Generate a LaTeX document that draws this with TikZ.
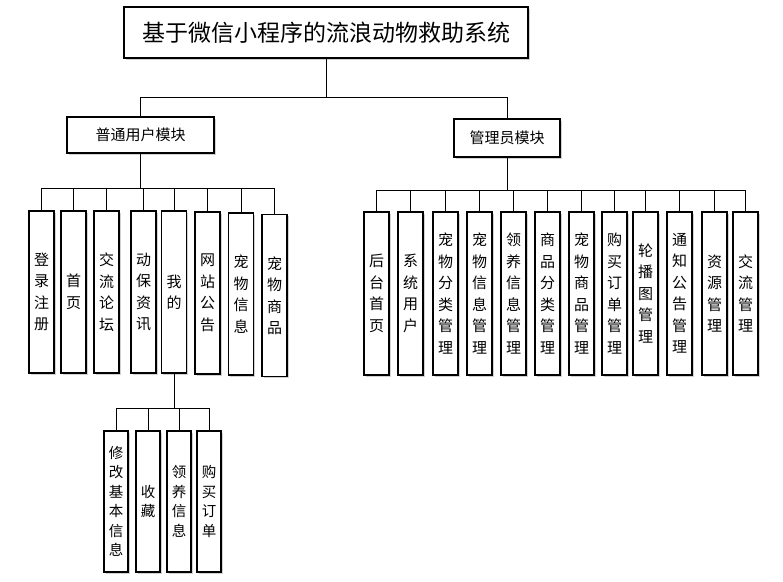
\documentclass[tikz,border=0pt]{standalone}
\usepackage{fontspec}
\newfontfamily\cjk{Noto Sans CJK SC}
\usetikzlibrary{positioning,shadows}

\begin{document}
\begin{tikzpicture}[x=1pt, y=-1pt,
		box/.style={rectangle, draw=black, line width=1.1pt, fill=white, inner sep=2pt,
			drop shadow={shadow xshift=1.5pt, shadow yshift=-1.5pt, fill=black!30, opacity=0.6}},
		modbox/.style={box, font=\cjk\fontsize{15}{15}\selectfont},
		leaf/.style={box, minimum width=25pt, minimum height=162pt, align=center,
			font=\cjk\fontsize{15}{21.5}\selectfont},
		subleaf/.style={leaf, minimum width=24pt, minimum height=141pt,
			font=\cjk\fontsize{14.5}{19.5}\selectfont},
		conn/.style={draw=black, line width=1pt}]
	\useasboundingbox (0,0) rectangle (783,581);

	% top
	\node[box, minimum width=404pt, minimum height=51pt, font=\cjk\fontsize{23}{23}\selectfont] (title) at (326,32.5) {基于微信小程序的流浪动物救助系统};
	\node[modbox, minimum width=147pt, minimum height=36pt] (user) at (140.5,135) {普通用户模块};
	\node[modbox, minimum width=106pt, minimum height=38pt] (admin) at (507,138) {管理员模块};

	% user module
	\node[leaf] (u1) at (41.5,292) {登\\录\\注\\册};
	\node[leaf] (u2) at (73.5,292) {首\\页};
	\node[leaf] (u3) at (106.5,292) {交\\流\\论\\坛};
	\node[leaf] (u4) at (143.5,292) {动\\保\\资\\讯};
	\node[leaf] (u5) at (174,292) {我\\的};
	\node[leaf] (u6) at (207.5,293) {网\\站\\公\\告};
	\node[leaf] (u7) at (241,294) {宠\\物\\信\\息};
	\node[leaf] (u8) at (274.5,295.5) {宠\\物\\商\\品};

	% mine
	\node[subleaf] (m1) at (116,501.5) {修\\改\\基\\本\\信\\息};
	\node[subleaf] (m2) at (148,501.5) {收\\藏};
	\node[subleaf] (m3) at (179,501.5) {领\\养\\信\\息};
	\node[subleaf] (m4) at (209,501.5) {购\\买\\订\\单};

	% admin module
	\node[leaf, minimum height=163pt] (a1) at (376.5,293.5) {后\\台\\首\\页};
	\node[leaf, minimum height=163pt] (a2) at (410.5,293.5) {系\\统\\用\\户};
	\node[leaf, minimum height=163pt] (a3) at (445.5,293.5) {宠\\物\\分\\类\\管\\理};
	\node[leaf, minimum height=163pt] (a4) at (479.5,293.5) {宠\\物\\信\\息\\管\\理};
	\node[leaf, minimum height=163pt] (a5) at (513.5,293.5) {领\\养\\信\\息\\管\\理};
	\node[leaf, minimum height=163pt] (a6) at (547.5,293.5) {商\\品\\分\\类\\管\\理};
	\node[leaf, minimum height=163pt] (a7) at (581.5,293.5) {宠\\物\\商\\品\\管\\理};
	\node[leaf, minimum height=163pt] (a8) at (614.5,293.5) {购\\买\\订\\单\\管\\理};
	\node[leaf, minimum height=163pt] (a9) at (645.5,293.5) {轮\\播\\图\\管\\理};
	\node[leaf, minimum height=163pt] (a10) at (679.5,293.5) {通\\知\\公\\告\\管\\理};
	\node[leaf, minimum height=163pt] (a11) at (714.5,293.5) {资\\源\\管\\理};
	\node[leaf, minimum height=163pt] (a12) at (745.5,293.5) {交\\流\\管\\理};

	% connectors
	\draw[conn] (title.south) -- ++(0,39) -| (user.north);
	\draw[conn] (title.south) -- ++(0,39) -| (admin.north);

	\draw[conn] (user.south) -- ++(0,35) -| (u1.north);
	\draw[conn] (user.south) -- ++(0,35) -| (u2.north);
	\draw[conn] (user.south) -- ++(0,35) -| (u3.north);
	\draw[conn] (user.south) -- ++(0,35) -| (u4.north);
	\draw[conn] (user.south) -- ++(0,35) -| (u5.north);
	\draw[conn] (user.south) -- ++(0,35) -| (u6.north);
	\draw[conn] (user.south) -- ++(0,35) -| (u7.north);
	\draw[conn] (user.south) -- ++(0,35) -| (u8.north);

	\draw[conn] (u5.south) -- ++(0,35) -| (m1.north);
	\draw[conn] (u5.south) -- ++(0,35) -| (m2.north);
	\draw[conn] (u5.south) -- ++(0,35) -| (m3.north);
	\draw[conn] (u5.south) -- ++(0,35) -| (m4.north);

	\draw[conn] (admin.south) -- ++(0,33) -| (a1.north);
	\draw[conn] (admin.south) -- ++(0,33) -| (a2.north);
	\draw[conn] (admin.south) -- ++(0,33) -| (a3.north);
	\draw[conn] (admin.south) -- ++(0,33) -| (a4.north);
	\draw[conn] (admin.south) -- ++(0,33) -| (a5.north);
	\draw[conn] (admin.south) -- ++(0,33) -| (a6.north);
	\draw[conn] (admin.south) -- ++(0,33) -| (a7.north);
	\draw[conn] (admin.south) -- ++(0,33) -| (a8.north);
	\draw[conn] (admin.south) -- ++(0,33) -| (a9.north);
	\draw[conn] (admin.south) -- ++(0,33) -| (a10.north);
	\draw[conn] (admin.south) -- ++(0,33) -| (a11.north);
	\draw[conn] (admin.south) -- ++(0,33) -| (a12.north);
\end{tikzpicture}
\end{document}
